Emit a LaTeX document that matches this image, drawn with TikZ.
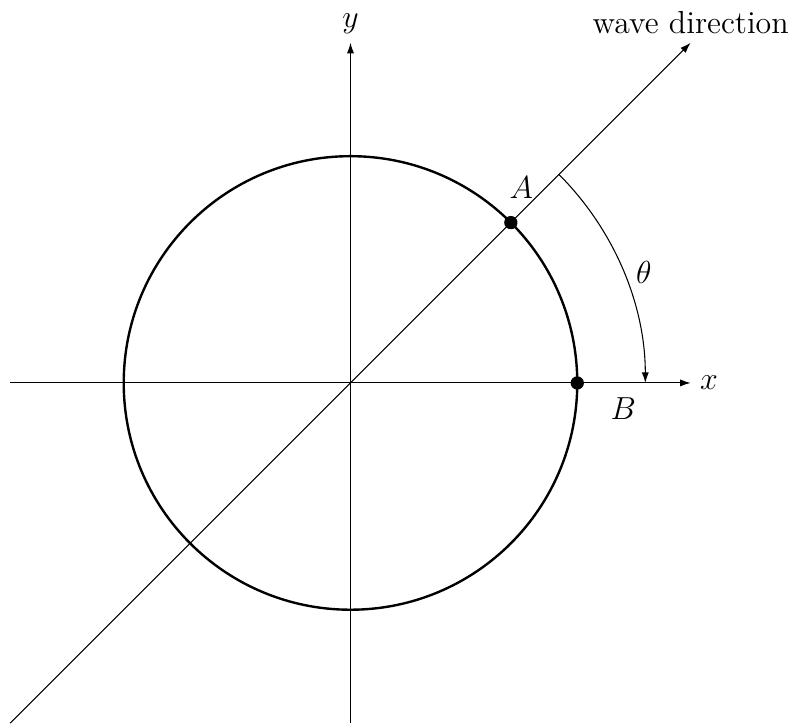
\documentclass[tikz,border=0pt]{standalone}
\usetikzlibrary{arrows.meta,positioning}
\tikzset{tip/.style={-{Latex[length=4pt,width=2.7pt]}},
  dot/.style={circle, fill, inner sep=0pt, minimum size=5pt},
  ring/.style={line width=0.9pt}}

\begin{document}
\begin{tikzpicture}[font=\fontsize{12}{14}\selectfont]
  \useasboundingbox (-4.6366,-4.537) rectangle (5.8404,5.066);
  % axes and wave line
  \coordinate (O) at (0,0);
  \coordinate (xl) at (-4.5,0); \coordinate (xr) at (4.5,0);
  \coordinate (yb) at (0,-4.5); \coordinate (yt) at (0,4.5);
  \coordinate (wl) at (-4.5,-4.5); \coordinate (wr) at (4.5,4.5);
  \draw[tip] (xl) -- (xr);
  \draw[tip] (yb) -- (yt);
  \draw[tip] (wl) -- (wr);
  \node[right=0pt of xr] (xlab) {$x$};
  \node[above=0pt of yt] (ylab) {$y$};
  \node[above=0pt of wr] (wlab) {wave direction};
  % circle with the two points
  \draw[ring] (O) circle (3);
  \node[dot] (A) at (45:3) {};
  \node[dot] (B) at (0:3) {};
  \node[above=0.1cm of A, xshift=0.14cm] (alab) {$A$};
  \node[below right=0pt and 0.25cm of B] (blab) {$B$};
  % angle
  \coordinate (th0) at (45:3.9);
  \draw[tip] (th0) arc[start angle=45, end angle=0, radius=3.9];
  \node (thlab) at (20.7:4.15) {$\theta$};
\end{tikzpicture}
\end{document}
